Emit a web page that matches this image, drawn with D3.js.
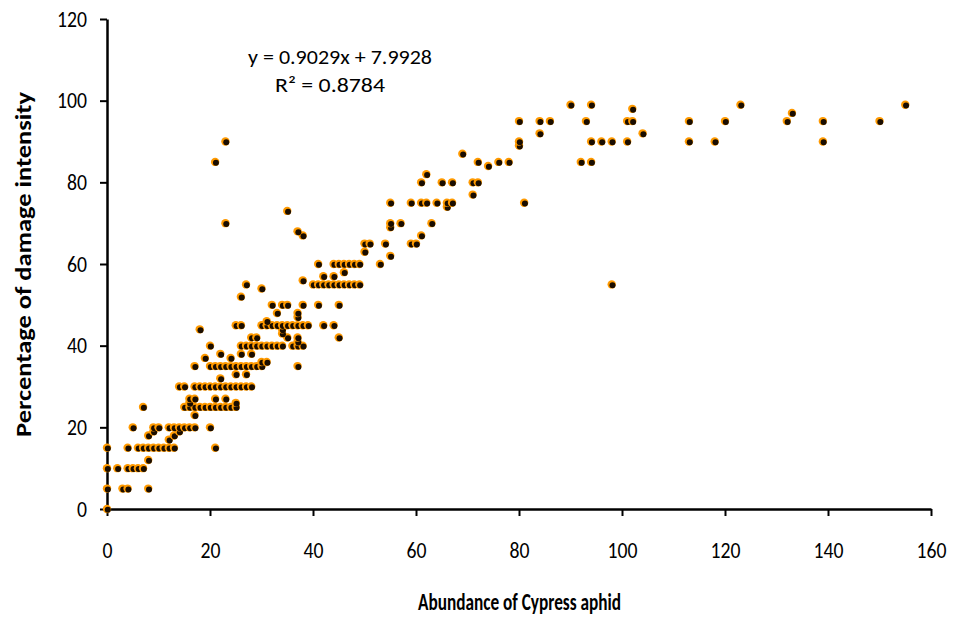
<!DOCTYPE html>
<html>
<head>
<meta charset="utf-8">
<script src="https://cdn.jsdelivr.net/npm/d3@7"></script>
<style>
  body { margin: 0; background: #fff; }
  svg { display: block; font-family: Carlito, Lato, "Open Sans", sans-serif; }
</style>
</head>
<body>
<div id="viz"></div>
<script>
const margin = {top: 19, right: 23, bottom: 108, left: 107};
const width = 954;
const height = 617;

// [abundance, damage %] pairs
const observations = [
    [0,0],
    [0,5],[3,5],[4,5],[8,5],
    [0,10],[2,10],[4,10],[5,10],[6,10],[7,10],[8,12],
    [0,15],[4,15],[6,15],[7,15],[8,15],[9,15],[10,15],[11,15],[12,15],[13,15],[21,15],
    [12,17],[13,18],[14,19],[8,18],[9,19],
    [5,20],[9,20],[10,20],[12,20],[13,20],[14,20],[15,20],[16,20],[17,20],[20,20],
    [17,23],
    [7,25],[15,25],[16,25],[17,25],[18,25],[19,25],[20,25],[21,25],[22,25],[23,25],[24,25],[25,25],
    [16,26],[25,26],[16,27],[17,27],[21,27],[23,27],
    [14,30],[15,30],[17,30],[18,30],[19,30],[20,30],[21,30],[22,30],[23,30],[24,30],[25,30],[26,30],[27,30],[28,30],
    [22,32],[25,33],[27,33],
    [17,35],[20,35],[21,35],[22,35],[23,35],[24,35],[25,35],[26,35],[27,35],[28,35],[29,35],[30,35],[37,35],
    [30,36],[31,36],
    [19,37],[24,37],[22,38],[26,38],[28,38],
    [20,40],[26,40],[27,40],[28,40],[29,40],[30,40],[31,40],[32,40],[33,40],[34,40],[36,40],[37,40],[38,40],
    [37,41],[28,42],[29,42],[35,42],[37,42],[45,42],[34,43],[34,44],[18,44],
    [25,45],[26,45],[30,45],[31,45],[32,45],[33,45],[34,45],[35,45],[36,45],[37,45],[38,45],[39,45],[42,45],[44,45],
    [31,46],[37,47],[33,48],[37,48],
    [32,50],[34,50],[35,50],[38,50],[41,50],[45,50],
    [26,52],[30,54],
    [27,55],[40,55],[41,55],[42,55],[43,55],[44,55],[45,55],[46,55],[47,55],[48,55],[49,55],[98,55],
    [38,56],[42,57],[44,57],[46,58],
    [41,60],[44,60],[45,60],[46,60],[47,60],[48,60],[49,60],[53,60],
    [55,62],[50,63],[50,65],[51,65],[54,65],[59,65],[60,65],[61,67],[38,67],[37,68],
    [55,69],[55,70],[57,70],[63,70],[23,70],[35,73],
    [66,74],[55,75],[59,75],[61,75],[62,75],[64,75],[66,75],[67,75],[81,75],
    [71,77],[61,80],[65,80],[67,80],[71,80],[72,80],[62,82],[74,84],
    [72,85],[76,85],[78,85],[92,85],[94,85],[21,85],[69,87],
    [80,89],[80,90],[94,90],[96,90],[98,90],[101,90],[113,90],[118,90],[139,90],[23,90],
    [84,92],[104,92],
    [80,95],[84,95],[86,95],[93,95],[101,95],[102,95],[113,95],[120,95],[132,95],[139,95],[150,95],
    [133,97],[102,98],[90,99],[94,99],[123,99],[155,99]
];

const xTicks = [0, 20, 40, 60, 80, 100, 120, 140, 160];
const yTicks = [0, 20, 40, 60, 80, 100, 120];
const xTitle = 'Abundance of Cypress aphid';
const yTitle = 'Percentage of damage intensity';
const trendLabels = ['y = 0.9029x + 7.9928', 'R\u00B2 = 0.8784'];

const svg = d3.select('#viz')
    .append('svg')
        .attr('width', width)
        .attr('height', height)
        .attr('viewBox', [0, 0, width, height]);

const x = d3.scaleLinear()
    .domain([0, 160])
    .range([margin.left, width - margin.right]);
const y = d3.scaleLinear()
    .domain([0, 120])
    .range([height - margin.bottom, margin.top]);

// Axes
const xAxis = svg.append('g')
    .attr('transform', `translate(0,${height - margin.bottom})`)
    .call(d3.axisBottom(x).tickValues(xTicks).tickSize(7).tickPadding(26).tickSizeOuter(0));
const yAxis = svg.append('g')
    .attr('transform', `translate(${margin.left},0)`)
    .call(d3.axisLeft(y).tickValues(yTicks).tickSize(7).tickPadding(13).tickSizeOuter(0));

// the original text looks squeezed sideways, so stretch glyphs to the measured widths
[xAxis, yAxis].forEach(g => {
    g.select('.domain').attr('stroke', '#000').attr('stroke-width', 2.5);
    g.selectAll('.tick line').attr('stroke', '#000').attr('stroke-width', 2);
    g.selectAll('.tick text')
        .attr('fill', '#000')
        .attr('textLength', d => String(d).length * 10)
        .attr('lengthAdjust', 'spacingAndGlyphs')
        .style('font-size', '22px')
        .style('font-family', 'Carlito, Lato, "Open Sans", sans-serif');
});

// Axis titles
svg.append('text')
    .attr('x', 519.5)
    .attr('y', 610)
    .attr('text-anchor', 'middle')
    .attr('textLength', 203)
    .attr('lengthAdjust', 'spacingAndGlyphs')
    .style('font-size', '24px')
    .style('font-weight', 'bold')
    .text(xTitle);

svg.append('text')
    .attr('transform', `translate(31,264.5) rotate(-90)`)
    .attr('text-anchor', 'middle')
    .attr('textLength', 345)
    .attr('lengthAdjust', 'spacingAndGlyphs')
    .style('font-size', '22px')
    .style('font-weight', 'bold')
    .text(yTitle);

// Trendline equation
const eqX = [340, 330];
const eqLen = [184, 110];
svg.append('g')
    .selectAll('text')
    .data(trendLabels)
    .join('text')
        .attr('x', (d, i) => eqX[i])
        .attr('y', (d, i) => 64 + i * 28)
        .attr('text-anchor', 'middle')
        .attr('textLength', (d, i) => eqLen[i])
        .attr('lengthAdjust', 'spacingAndGlyphs')
        .style('font-size', '21px')
        .text(d => d);

// Markers: orange disc with dark core
const dots = svg.append('g')
    .selectAll('g')
    .data(observations)
    .join('g')
        .attr('transform', d => `translate(${x(d[0])},${y(d[1])})`);
dots.append('circle')
    .attr('r', 4.2)
    .attr('fill', '#ff9a00');
dots.append('circle')
    .attr('cx', 0.8)
    .attr('cy', 0.8)
    .attr('r', 3)
    .attr('fill', '#1a0d00');
</script>
</body>
</html>
